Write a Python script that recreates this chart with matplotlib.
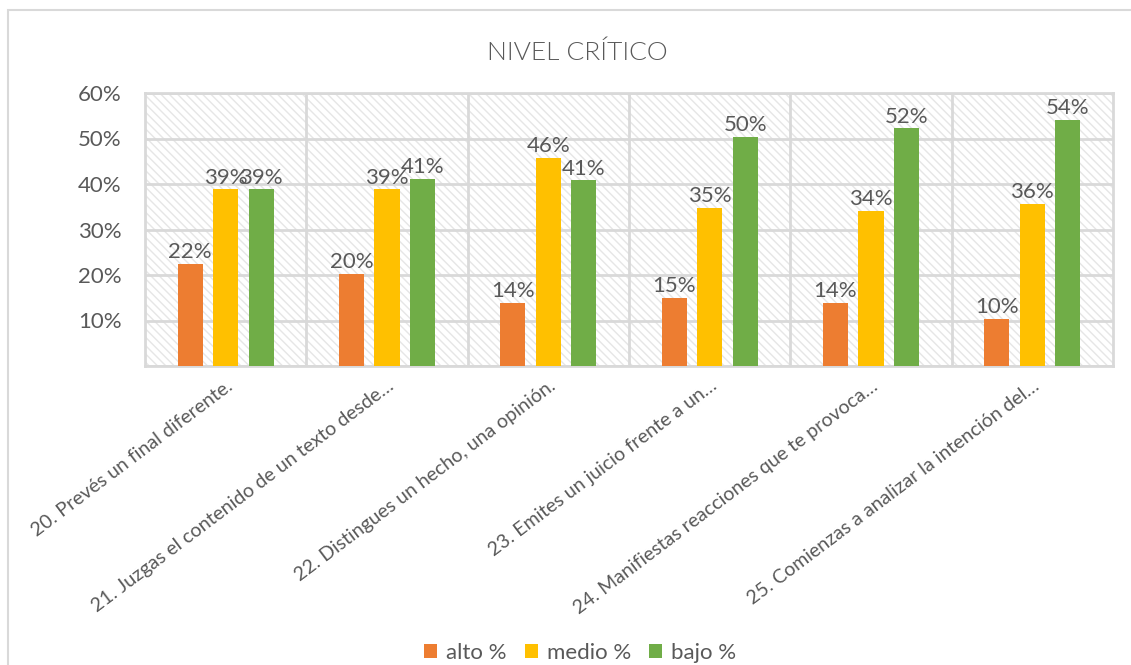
import matplotlib
matplotlib.use("Agg")
import matplotlib.pyplot as plt
import numpy as np
from matplotlib.patches import Rectangle

# Daten
categories = [
    "20. Prevés un final diferente.",
    "21. Juzgas el contenido de un texto desde…",
    "22. Distingues un hecho, una opinión.",
    "23. Emites un juicio frente a un…",
    "24. Manifiestas reacciones que te provoca…",
    "25. Comienzas a analizar la intención del…",
]
alto = [0.224, 0.203, 0.138, 0.149, 0.138, 0.104]
medio = [0.388, 0.388, 0.457, 0.348, 0.341, 0.356]
bajo = [0.388, 0.412, 0.408, 0.503, 0.522, 0.540]
series_names = ["alto %", "medio %", "bajo %"]
colors = ["#ED7D31", "#FFC000", "#70AD47"]

TEXT = "#595959"
GRID = "#d9d9d9"

plt.rcParams["font.family"] = ["Lato", "DejaVu Sans"]
plt.rcParams["hatch.linewidth"] = 1.0
plt.rcParams["hatch.color"] = "#e6e6e6"

fig = plt.figure(figsize=(11.31, 6.65), dpi=100)
# Rahmen um das Diagramm
fig.patches.append(Rectangle((8 / 1131, -0.1), 1.2, 1.1 - 10 / 665,
                             transform=fig.transFigure, fill=False,
                             edgecolor=GRID, linewidth=1.5))

ax = fig.add_axes([145 / 1131, 1 - 366 / 665, 968 / 1131, 273 / 665])
ax.patch.set_facecolor("white")
ax.patch.set_hatch("\\\\\\\\")
ax.patch.set_edgecolor("#e6e6e6")

x = np.arange(len(categories))
width = 0.155
offset = 0.22
for i, (vals, name, col) in enumerate(zip([alto, medio, bajo], series_names, colors)):
    pos = x + (i - 1) * offset
    ax.bar(pos, vals, width, color=col, label=name, zorder=3)
    for px, v in zip(pos, vals):
        ax.text(px, v + 0.004, f"{round(v * 100):.0f}%", ha="center", va="bottom",
                fontsize=16, color=TEXT, zorder=4)

ax.set_xlim(-0.5, len(categories) - 0.5)
ax.set_ylim(0, 0.6)
yt = np.arange(0, 0.61, 0.1)
ax.set_yticks(yt)
ax.set_yticklabels(["" if t == 0 else f"{t:.0%}" for t in yt], fontsize=16, color=TEXT)
ax.set_xticks(x)
ax.set_xticklabels(categories, rotation=37, ha="right", rotation_mode="anchor",
                   fontsize=14, color=TEXT)
ax.tick_params(axis="y", length=0, pad=17)
ax.tick_params(axis="x", length=0, pad=8)

ax.set_axisbelow(True)
ax.grid(axis="y", color=GRID, linewidth=2, zorder=1)
for b in np.arange(0.5, len(categories) - 0.5, 1):
    ax.axvline(b, color=GRID, linewidth=2, zorder=1)
for s in ax.spines.values():
    s.set_color(GRID)
    s.set_linewidth(2)

fig.text(577 / 1131, 1 - 53 / 665, "NIVEL CRÍTICO", ha="center", va="center",
         fontsize=19, color=TEXT, fontweight=300)

fig.legend(loc="center", bbox_to_anchor=(0.513, 1 - 653 / 665), ncol=3, frameon=False,
           fontsize=16, labelcolor=TEXT, handlelength=0.6, handleheight=0.6,
           columnspacing=0.8, handletextpad=0.4)

fig.savefig("out.png", dpi=100)
